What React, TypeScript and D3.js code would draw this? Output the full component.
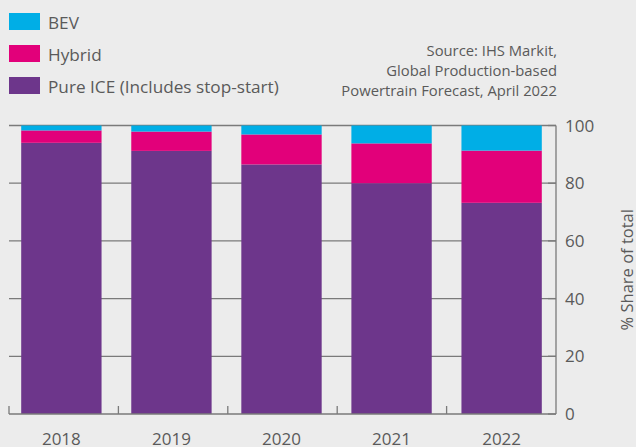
import React from "react";
import * as d3 from "d3";

const years = ["2018", "2019", "2020", "2021", "2022"];
const iceValues = [94.0, 91.2, 86.5, 80.0, 73.2];
const hybridValues = [4.3, 6.7, 10.4, 13.8, 18.1];
const bevValues = [1.7, 2.1, 3.1, 6.2, 8.7];
const yTicks = [0, 20, 40, 60, 80, 100];
const seriesNames = ["BEV", "Hybrid", "Pure ICE (Includes stop-start)"];
const sourceLines = ["Source: IHS Markit,", "Global Production-based", "Powertrain Forecast, April 2022"];

const W = 636, H = 447;
const colors: Record<string, string> = { ice: "#6d368b", hybrid: "#e2007a", bev: "#00aee6" };
const FONT = "'Open Sans', 'Noto Sans', sans-serif";
const TXT = "#5a5a5a";

export default function App() {
  const left = 9, right = 556, top = 125.5, bottom = 414;
  const x = d3.scaleBand<string>().domain(years).range([left, right]).paddingInner(0.27).paddingOuter(0.12);
  const y = d3.scaleLinear().domain([0, 100]).range([bottom, top]);
  const data = years.map((yr, i) => ({ year: yr, ice: iceValues[i], hybrid: hybridValues[i], bev: bevValues[i] }));
  const stack = d3.stack<any>().keys(["ice", "hybrid", "bev"])(data);
  const step = (right - left) / years.length;
  const legendColors = [colors.bev, colors.hybrid, colors.ice];

  return (
    <svg width={W} height={H} style={{ position: "absolute", left: 0, top: 0, background: "#ececec", fontFamily: FONT }}>
      <rect x={0} y={0} width={W} height={H} fill="#ececec" />
      {seriesNames.map((n, i) => (
        <g key={n}>
          <rect x={9} y={13 + i * 32} width={31} height={17} fill={legendColors[i]} />
          <text x={48} y={29 + i * 32} fontSize={17.2} fill={TXT}>{n}</text>
        </g>
      ))}
      {sourceLines.map((l, i) => (
        <text key={i} x={557} y={56 + i * 20} fontSize={14.8} fill={TXT} textAnchor="end">{l}</text>
      ))}
      {yTicks.filter((t) => t > 0).map((t) => (
        <line key={t} x1={left} x2={right} y1={y(t)} y2={y(t)} stroke="#7a7a7a" strokeWidth={1.3} />
      ))}
      {stack.map((s) => (
        <g key={s.key} fill={colors[s.key]}>
          {s.map((d: any, i: number) => (
            <rect key={i} x={(x(d.data.year) as number) - 1} width={x.bandwidth()} y={y(d[1])} height={y(d[0]) - y(d[1])} />
          ))}
        </g>
      ))}
      <line x1={left} x2={right} y1={bottom} y2={bottom} stroke="#7a7a7a" strokeWidth={1.3} />
      {d3.range(years.length).map((i) => (
        <line key={i} x1={left + i * step} x2={left + i * step} y1={bottom} y2={bottom - 8} stroke="#7a7a7a" strokeWidth={1.3} />
      ))}
      {years.map((yr) => (
        <text key={yr} x={(x(yr) as number) - 1 + x.bandwidth() / 2} y={445} fontSize={17} fill={TXT} textAnchor="middle">{yr}</text>
      ))}
      <line x1={right} x2={right} y1={top} y2={bottom} stroke="#7a7a7a" strokeWidth={1.3} />
      {yTicks.map((t) => (
        <g key={t}>
          <line x1={right - 8} x2={right} y1={y(t)} y2={y(t)} stroke="#7a7a7a" strokeWidth={1.3} />
          <text x={565} y={y(t) + 6} fontSize={17} fill={TXT}>{t}</text>
        </g>
      ))}
      <text transform={`translate(633,${(top + bottom) / 2}) rotate(-90)`} textAnchor="middle" fontSize={16.5} fill={TXT}>% Share of total</text>
    </svg>
  );
}
